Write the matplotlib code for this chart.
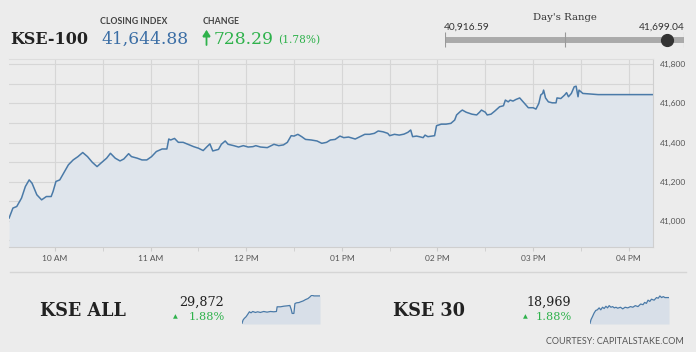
import numpy as np
import matplotlib
matplotlib.use("Agg")
import matplotlib.pyplot as plt
from matplotlib.ticker import MultipleLocator, FixedLocator
from matplotlib.patches import FancyArrowPatch

W, H = 696, 355
BG = '#ececec'
BLUE = '#4a7aa8'
GREEN = '#2fb24c'

# KSE-100 intraday: hour of day, index level
t100 = [9.52, 9.56, 9.60, 9.65, 9.69, 9.73, 9.76, 9.81, 9.86, 9.91, 9.96, 9.98,
        10.01, 10.05, 10.09, 10.14, 10.19, 10.24, 10.29, 10.34, 10.39, 10.44, 10.49,
        10.54, 10.58, 10.63, 10.68, 10.72, 10.77, 10.80, 10.86, 10.91, 10.96,
        11.01, 11.06, 11.12, 11.17, 11.19, 11.21, 11.25, 11.29, 11.34, 11.39, 11.45,
        11.50, 11.55, 11.59, 11.62, 11.65, 11.71, 11.74, 11.78, 11.81, 11.87, 11.92,
        11.97, 12.02, 12.07, 12.10, 12.15, 12.22, 12.29, 12.34, 12.39, 12.43, 12.47,
        12.50, 12.54, 12.58, 12.62, 12.68, 12.74, 12.79, 12.84, 12.88, 12.93, 12.98,
        13.02, 13.07, 13.14, 13.19, 13.24, 13.29, 13.34, 13.38, 13.43, 13.48, 13.50,
        13.55, 13.60, 13.65, 13.69, 13.72, 13.74, 13.78, 13.81, 13.85, 13.87, 13.90,
        13.97, 13.99, 14.04, 14.09, 14.14, 14.18, 14.20, 14.24, 14.26, 14.30, 14.36,
        14.41, 14.44, 14.46, 14.50, 14.52, 14.56, 14.60, 14.65, 14.69, 14.71, 14.74,
        14.76, 14.79, 14.82, 14.86, 14.88, 14.91, 14.95, 15.00, 15.03, 15.06, 15.08,
        15.10, 15.11, 15.13, 15.16, 15.20, 15.24, 15.25, 15.29, 15.33, 15.35, 15.37,
        15.40, 15.43, 15.45, 15.47, 15.48, 15.52, 15.68, 16.26]
v100 = [41014, 41065, 41073, 41116, 41175, 41209, 41192, 41133, 41107, 41124, 41124, 41150,
        41201, 41209, 41243, 41286, 41311, 41328, 41349, 41328, 41299, 41277, 41299,
        41320, 41345, 41320, 41306, 41316, 41343, 41328, 41320, 41311, 41311,
        41328, 41354, 41367, 41367, 41418, 41413, 41421, 41401, 41401, 41391, 41379,
        41371, 41359, 41379, 41393, 41357, 41365, 41391, 41408, 41391, 41384, 41377,
        41384, 41377, 41379, 41384, 41377, 41374, 41391, 41384, 41388, 41401, 41435,
        41433, 41442, 41430, 41416, 41413, 41408, 41396, 41401, 41413, 41416, 41433,
        41425, 41428, 41418, 41430, 41442, 41442, 41447, 41459, 41455, 41447, 41435,
        41442, 41438, 41443, 41452, 41464, 41430, 41433, 41430, 41425, 41438, 41430,
        41435, 41486, 41494, 41494, 41498, 41515, 41541, 41559, 41566, 41555, 41545,
        41541, 41555, 41566, 41555, 41541, 41545, 41561, 41583, 41588, 41617, 41608,
        41617, 41612, 41620, 41628, 41617, 41600, 41578, 41578, 41571, 41600, 41643,
        41651, 41668, 41628, 41608, 41603, 41603, 41628, 41625, 41643, 41655, 41634,
        41651, 41685, 41688, 41634, 41668, 41651, 41645, 41645]

hour_ticks = [10, 11, 12, 13, 14, 15, 16]
hour_labels = ['10 AM', '11 AM', '12 PM', '01 PM', '02 PM', '03 PM', '04 PM']
level_ticks = [41000, 41200, 41400, 41600, 41800]

closing = 41644.88
change = 728.29
change_pct = 1.78
day_low = 40916.59
day_high = 41699.04

# KSE ALL sparkline
t_all = [9.50, 9.59, 9.70, 9.85, 9.99, 10.14, 10.28, 10.43, 10.66, 10.86, 11.09, 11.38,
         11.67, 11.96, 12.25, 12.48, 12.54, 12.83, 13.12, 13.41, 13.64, 13.76, 13.84,
         13.99, 14.08, 14.22, 14.43, 14.57, 14.80, 15.00, 15.21, 15.38, 15.53, 15.73,
         16.02, 16.25]
v_all = [29332, 29397, 29430, 29462, 29508, 29560, 29540, 29566, 29547, 29560, 29547, 29566,
         29553, 29566, 29560, 29566, 29658, 29658, 29670, 29677, 29684, 29606, 29528,
         29528, 29722, 29736, 29742, 29755, 29774, 29800, 29820, 29852, 29885, 29872,
         29872, 29872]

# KSE 30 sparkline
t_30 = [9.50, 9.59, 9.70, 9.85, 9.99, 10.13, 10.28, 10.42, 10.57, 10.71, 10.86, 11.00,
        11.14, 11.29, 11.43, 11.58, 11.72, 11.87, 12.10, 12.30, 12.50, 12.73, 12.96,
        13.16, 13.37, 13.60, 13.83, 14.03, 14.17, 14.32, 14.46, 14.61, 14.75, 14.98,
        15.18, 15.33, 15.47, 15.62, 15.76, 15.90, 16.25]
v_30 = [18649, 18697, 18729, 18777, 18809, 18817, 18841, 18817, 18849, 18833, 18861, 18841,
        18869, 18849, 18857, 18841, 18849, 18837, 18849, 18829, 18849, 18841, 18857,
        18849, 18869, 18857, 18889, 18881, 18909, 18897, 18937, 18921, 18949, 18937,
        18969, 18961, 18989, 18969, 18981, 18969, 18969]


def box(x0, y0, x1, y1):
    # pixel box (top-left origin) -> figure rect
    return [x0 / W, 1 - y1 / H, (x1 - x0) / W, (y1 - y0) / H]


def ftext(x, y, s, **kw):
    fig.text(x / W, 1 - y / H, s, **kw)


fig = plt.figure(figsize=(W / 100, H / 100), dpi=100, facecolor=BG)

# ---- main chart ----
ax = fig.add_axes(box(9, 59, 653, 247))
ax.set_facecolor(BG)
ax.fill_between(t100, v100, 40866, color='#dfe5ec', lw=0)
ax.plot(t100, v100, color=BLUE, lw=1.1)
ax.set_xlim(9.519, 16.254)
ax.set_ylim(40866, 41827)
ax.xaxis.set_major_locator(FixedLocator(hour_ticks))
ax.set_xticklabels(hour_labels)
ax.xaxis.set_minor_locator(MultipleLocator(0.5))
ax.yaxis.set_major_locator(FixedLocator(level_ticks))
ax.set_yticklabels(['{:,}'.format(v) for v in level_ticks])
ax.yaxis.set_minor_locator(MultipleLocator(100))
ax.yaxis.tick_right()
ax.grid(True, which='both', color='#d6d6d6', lw=0.8)
ax.set_axisbelow(True)
ax.tick_params(axis='x', which='both', length=3, color='#cccccc', labelsize=6,
               labelcolor='#555555', pad=3)
ax.tick_params(axis='y', which='both', length=0, labelsize=6, labelcolor='#555555', pad=5)
for lab in ax.get_xticklabels() + ax.get_yticklabels():
    lab.set_fontfamily('Lato')
ax.spines['left'].set_visible(False)
ax.spines['top'].set_color('#dddddd')
ax.spines['right'].set_color('#cfcfcf')
ax.spines['bottom'].set_color('#cfcfcf')
for s in ax.spines.values():
    s.set_linewidth(0.8)

# ---- header ----
ftext(10, 43.5, 'KSE-100', family='DejaVu Serif', weight='bold', fontsize=11.5, color='#222222')
ftext(100, 24, 'CLOSING INDEX', family='Lato', weight='bold', fontsize=6.3, color='#444444')
ftext(101, 43.5, '{:,.2f}'.format(closing), family='DejaVu Serif', fontsize=12.3, color='#3b6ea5')
ftext(203, 24, 'CHANGE', family='Lato', weight='bold', fontsize=6.3, color='#444444')
fig.add_artist(FancyArrowPatch((206.5 / W, 1 - 45 / H), (206.5 / W, 1 - 30 / H),
                               transform=fig.transFigure,
                               arrowstyle='-|>,head_width=0.3,head_length=0.45',
                               mutation_scale=8, lw=1.3, color=GREEN,
                               shrinkA=0, shrinkB=0, joinstyle='miter'))
ftext(214, 43.5, '{:.2f}'.format(change), family='DejaVu Serif', fontsize=12.3, color=GREEN)
ftext(278, 43, '({:.2f}%)'.format(change_pct), family='DejaVu Serif', fontsize=7.6, color=GREEN)

# day's range
ftext(565, 20, "Day's Range", family='DejaVu Serif', fontsize=7.3, color='#333333', ha='center')
ftext(444, 29.3, '{:,.2f}'.format(day_low), family='Lato', fontsize=7.3, color='#333333')
ftext(685, 29.3, '{:,.2f}'.format(day_high), family='Lato', fontsize=7.3, color='#333333', ha='right')
axr = fig.add_axes(box(445, 31, 684, 48))
axr.set_xlim(day_low, day_high)
axr.set_ylim(0, 1)
axr.axis('off')
axr.hlines(0.5, day_low, day_high, color='#aaaaaa', lw=4.3)
axr.vlines([day_low, (day_low + day_high) / 2, day_high], 0.05, 0.95, color='#999999', lw=0.8)
axr.plot([closing], [0.5], 'o', color='#333333', ms=8.5)

# ---- bottom panel ----
fig.add_artist(plt.Line2D([10 / W, 686 / W], [1 - 272 / H] * 2, color='#d5d5d5', lw=1))
fig.add_artist(plt.Rectangle((0, 0), 1, 3.5 / H, color='white', lw=0))


def spark(x0, x1, t, v, ylim):
    a = fig.add_axes(box(x0, 295, x1, 324))
    a.fill_between(t, v, ylim[0], color='#d8dfe8', lw=0)
    a.plot(t, v, color=BLUE, lw=0.9)
    a.set_xlim(t[0], t[-1])
    a.set_ylim(*ylim)
    a.axis('off')


for name, x_name, last, x_num, x_tri, t, v, ylim, x_sp in [
        ('KSE ALL', 40, v_all[-1], 224, 175, t_all, v_all, (29320, 29890), (242, 320)),
        ('KSE 30', 393, v_30[-1], 571, 525, t_30, v_30, (18641, 19001), (590, 669))]:
    ftext(x_name, 316, name, family='DejaVu Serif', weight='bold', fontsize=12.7, color='#222222')
    ftext(x_num, 306, '{:,}'.format(last), family='DejaVu Serif', fontsize=9.2, color='#222222', ha='right')
    ftext(x_tri, 316.7, '\u25b2', family='DejaVu Sans', fontsize=4.5, color=GREEN, ha='center', va='center')
    ftext(x_num + 1, 320, '1.88%', family='DejaVu Serif', fontsize=8.2, color=GREEN, ha='right')
    spark(x_sp[0], x_sp[1], t, v, ylim)

ftext(684, 344, 'COURTESY: CAPITALSTAKE.COM', family='Lato', fontsize=6.5, color='#555555', ha='right')

fig.savefig('out.png', dpi=100, facecolor=BG)
